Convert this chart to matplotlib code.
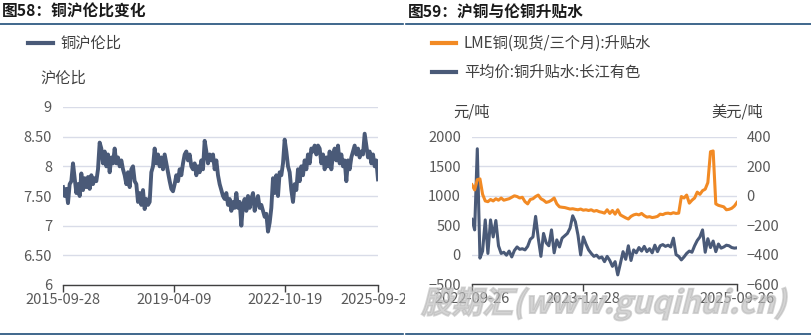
import matplotlib
matplotlib.use("Agg")
import matplotlib.pyplot as plt
import pandas as pd
from matplotlib.transforms import Bbox, TransformedBbox, Affine2D
from matplotlib.textpath import TextPath
from matplotlib.patches import PathPatch
from matplotlib.font_manager import FontProperties

plt.rcParams['font.family'] = ['Noto Sans CJK SC', 'DejaVu Sans']

# 铜沪伦比 (daily, sampled)
ratio = [7.65, 7.50, 7.62, 7.38, 7.70, 7.75,
         8.05, 7.80, 7.55, 7.70, 7.50, 7.88,
         7.60, 7.80, 7.65, 7.82, 7.62, 7.85, 7.70, 7.80, 7.75,
         7.95, 8.40,
         8.30, 8.05, 8.25, 8.00, 8.20, 7.90, 8.15, 8.05, 8.30,
         8.05, 8.15, 8.00, 8.10, 7.95,
         7.85, 7.70, 7.90, 7.65, 7.95, 8.00, 7.75, 7.70,
         7.40, 7.55, 7.35, 7.60, 7.28, 7.45, 7.35, 7.40,
         7.90, 8.00, 8.30,
         8.05, 8.20, 8.00, 8.15, 7.95, 8.20, 8.05,
         7.90, 7.75, 7.62, 7.58, 7.70,
         7.85, 7.75, 7.95, 7.85, 8.05,
         8.20, 8.25, 8.10, 8.20, 8.00,
         7.95, 8.05, 7.85, 8.00, 7.90,
         8.10, 7.95, 8.43,
         8.25, 8.05, 8.20, 8.10, 8.20, 7.95, 8.10,
         7.85, 7.70, 7.60, 7.50, 7.45, 7.55,
         7.35, 7.45, 7.25, 7.40, 7.30,
         7.55, 7.30, 7.40, 7.00,
         7.35, 7.45, 7.25, 7.50, 7.30, 7.45, 7.55, 7.25, 7.40, 7.50, 7.30, 7.35, 7.25,
         7.15, 7.20, 6.90,
         7.05, 7.30, 7.80, 7.55, 7.85, 7.50,
         7.90, 7.85, 8.05,
         8.45, 8.25, 8.00, 7.90, 7.60, 7.40,
         7.70, 7.60, 7.95, 7.75, 8.00,
         7.85, 8.10, 7.95, 8.20, 8.05, 8.30,
         8.25, 8.35, 8.20, 8.35, 8.30,
         8.05, 8.20, 7.95, 8.15, 8.00, 8.25, 7.95, 8.20,
         8.30, 8.10, 8.35, 8.05, 8.20, 8.00, 8.10, 7.75,
         8.10, 7.95, 8.15, 8.25, 8.35, 8.20, 8.30, 8.15, 8.25, 8.20,
         8.55, 8.35, 8.15, 8.25, 8.05, 8.20, 8.00, 8.10, 7.78]
ratio_start, ratio_end = "2015-09-28", "2025-09-26"
ratio_ticks = ["2015-09-28", "2019-04-09", "2022-10-19", "2025-09-26"]

# LME铜(现货/三个月) 升贴水, 美元/吨
lme = [75, 40, 110, 115, 10, -35, -40, -25, -35, -20,
       -30, -15, -30, -25, -20, -10, 0, -5, -15, -10,
       -40, -55, -25, -20, -5, 5, -20, -30, -45, -40,
       -30, -15, -55, -75, -78, -80, -85, -90, -88, -92,
       -95, -90, -98, -95, -100, -95, -105, -100, -108, -112,
       -118, -95, -120, -100, -125, -95, -130, -140, -150, -158,
       -140, -130, -125, -130, -120, -135, -145, -142, -148, -145,
       -140, -125, -128, -120, -118, -122, -115, -120, -118, -5,
       -15, 5, -50, -30, -15, 25, 10, 35, 45, 90,
       300, 305, -55, -65, -70, -75, -95, -92, -85, -70,
       -45]
# 长江有色 铜升贴水平均价, 元/吨
cj = [600, 420, 1800, -60, 60, 590, 20, 590, 300, 580,
      150, 20, 40, -10, 60, -40, 70, 130, 90, 100,
      80, 140, 260, 300, 650, 280, -30, 360, 200, 150,
      420, 30, 250, 130, 280, 320, 360, 450, 660, 560,
      330, -5, 300, 180, 80, 20, -30, -10, -60, -40,
      -120, -30, -100, -200, -120, -345, -150, 50, -80, 150,
      -100, 80, 30, 120, 60, 140, 50, 100, 30, 160,
      50, 150, 170, 140, 160, 130, 280, 0, -30, -90,
      -40, 20, 60, 40, 150, 240, 300, 420, 40, 270,
      120, 230, 50, 180, 110, 130, 160, 150, 120, 110,
      115]
spread_start, spread_end = "2022-09-26", "2025-09-26"
spread_ticks = ["2022-09-26", "2023-12-28", "2025-09-26"]

navy = "#4a5a78"
orange = "#f28a24"
rule = "#1f4e79"
grid_c = "#d9dce8"
tick_c = "#595959"
text_c = "#404040"

W, H = 812, 335
fig = plt.figure(figsize=(W / 100, H / 100), dpi=100)
pix = Affine2D().scale(1 / W, 1 / H) + fig.transFigure


def px(x, y):
    return x / W, 1 - y / H


def axes_px(x0, y0, x1, y1):
    return fig.add_axes([x0 / W, 1 - y1 / H, (x1 - x0) / W, (y1 - y0) / H])


def style_axes(ax):
    for s in ("top", "right", "left"):
        ax.spines[s].set_visible(False)
    ax.spines["bottom"].set_color("#404040")
    ax.spines["bottom"].set_linewidth(1.0)
    ax.tick_params(axis="x", length=5, width=1, color="#404040", pad=1,
                   labelsize=10.5, labelcolor=tick_c)
    ax.tick_params(axis="y", length=0, pad=8, labelsize=10.5, labelcolor=tick_c)
    ax.grid(axis="y", color=grid_c, lw=1)
    ax.set_axisbelow(True)


# headings and rules
for x0, x1, title in [(0, 403, "图58：铜沪伦比变化"), (406, 812, "图59：沪铜与伦铜升贴水")]:
    fig.text(*px(x0 + 2, 12), title, fontsize=11.3, fontweight="bold",
             color="#1a1a1a", va="center", ha="left")
    fig.add_artist(plt.Line2D([x0 / W, x1 / W], [1 - 24 / H] * 2, color=rule, lw=1.2))
    fig.add_artist(plt.Line2D([x0 / W, x1 / W], [1 - 334 / H] * 2, color=rule, lw=1.2))

# left panel
ax1 = axes_px(63, 107, 378, 285)
style_axes(ax1)
d1 = pd.date_range(ratio_start, ratio_end, periods=len(ratio))
ax1.plot(d1, ratio, color=navy, lw=2.8)
ax1.set_xlim(pd.Timestamp(ratio_start), pd.Timestamp(ratio_end))
ax1.set_ylim(6, 9)
ax1.set_yticks([6, 6.5, 7, 7.5, 8, 8.5, 9])
ax1.set_yticklabels(["6", "6.50", "7", "7.50", "8", "8.50", "9"])
ax1.set_xticks([pd.Timestamp(t) for t in ratio_ticks])
ax1.set_xticklabels(ratio_ticks)
clip = TransformedBbox(Bbox([[0, 0], [405 / W, 1]]), fig.transFigure)
for lab in ax1.get_xticklabels():
    lab.set_clip_box(clip)
    lab.set_clip_on(True)

fig.add_artist(plt.Line2D([28 / W, 53 / W], [1 - 43 / H] * 2, color=navy, lw=3))
fig.text(*px(60, 43), "铜沪伦比", fontsize=11, color=text_c, va="center")
fig.text(*px(40, 78), "沪伦比", fontsize=11, color=text_c, va="center")

# right panel
ax2 = axes_px(472, 137, 737, 284)
style_axes(ax2)
ax3 = ax2.twinx()
for s in ax3.spines.values():
    s.set_visible(False)
ax3.tick_params(axis="y", length=0, pad=7, labelsize=10.5, labelcolor=tick_c)

d2 = pd.date_range(spread_start, spread_end, periods=len(cj))
ax2.plot(d2, cj, color=navy, lw=2.2)
ax3.plot(d2, lme, color=orange, lw=2.2)
ax2.set_xlim(pd.Timestamp(spread_start), pd.Timestamp(spread_end))
ax2.set_ylim(-500, 2000)
ax2.set_yticks(range(-500, 2001, 500))
ax3.set_ylim(-600, 400)
ax3.set_yticks(range(-600, 401, 200))
ax2.set_xticks([pd.Timestamp(t) for t in spread_ticks])
ax2.set_xticklabels(spread_ticks)

fig.add_artist(plt.Line2D([432 / W, 456 / W], [1 - 43 / H] * 2, color=orange, lw=3))
fig.text(*px(464, 43), "LME铜(现货/三个月):升贴水", fontsize=11, color=text_c, va="center")
fig.add_artist(plt.Line2D([432 / W, 456 / W], [1 - 72 / H] * 2, color=navy, lw=3))
fig.text(*px(464, 72), "平均价:铜升贴水:长江有色", fontsize=11, color=text_c, va="center")
fig.text(*px(453, 112), "元/吨", fontsize=11, color=text_c, va="center")
fig.text(*px(711, 112), "美元/吨", fontsize=11, color=text_c, va="center")

# slanted watermark across the lower right
wm = TextPath((0, 0), "股期汇(www.guqihui.cn)", size=30,
              prop=FontProperties(family="Noto Sans CJK SC", weight="bold"))
ext = wm.get_extents()
k = 370 / (ext.width + 0.25 * ext.height)
wm_tf = (Affine2D().translate(-ext.x0 - ext.width / 2, -ext.y0 - ext.height / 2)
         .skew_deg(14, 0).scale(k).translate(605, H - 304)) + pix
fig.add_artist(PathPatch(wm, transform=wm_tf, facecolor="#b8b8b8", edgecolor="#b8b8b8",
                         lw=1.3, alpha=0.6, zorder=10))

fig.savefig("out.png", dpi=100)
